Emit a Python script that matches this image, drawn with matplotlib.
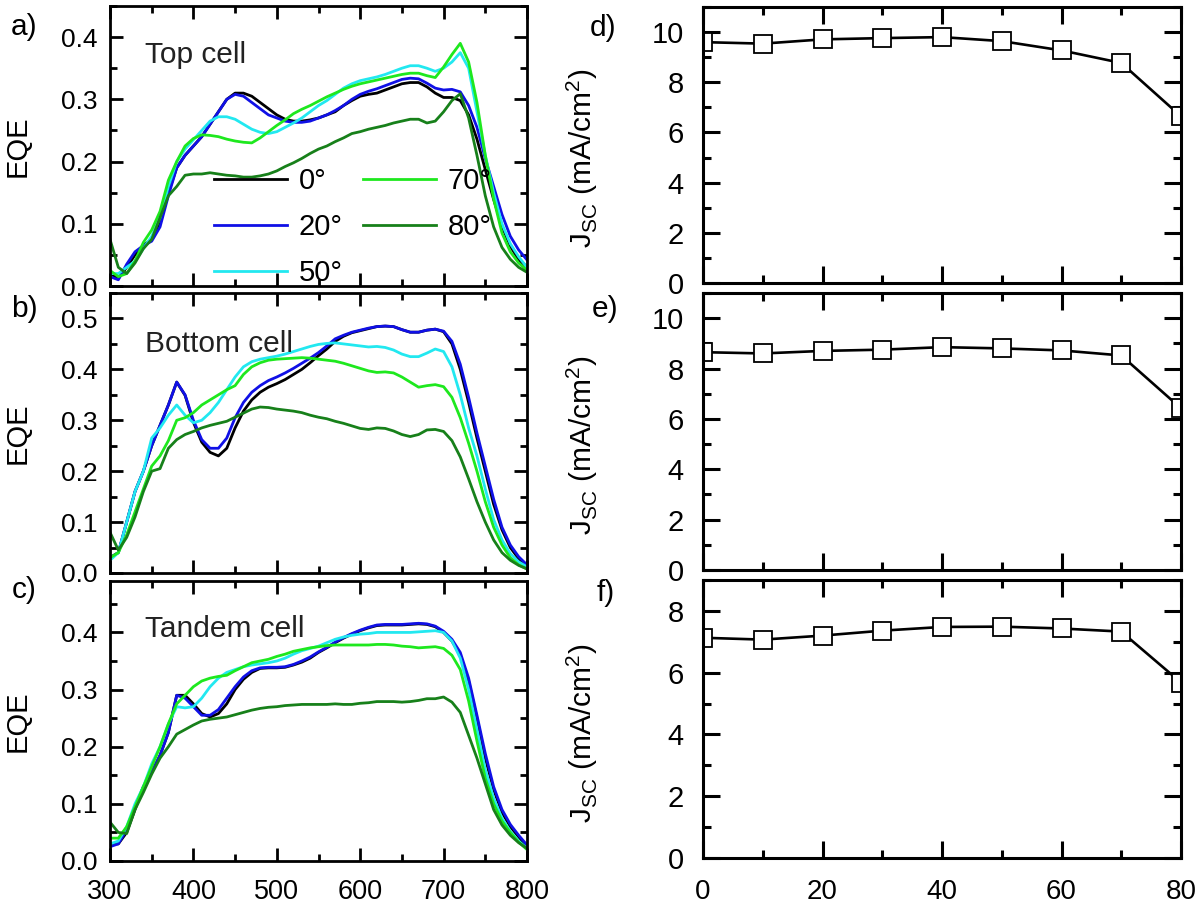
import numpy as np
import matplotlib
matplotlib.use('Agg')
import matplotlib.pyplot as plt
from matplotlib.ticker import MultipleLocator, FormatStrFormatter

plt.rcParams['font.family'] = ['Liberation Sans', 'DejaVu Sans']
plt.rcParams['mathtext.fontset'] = 'custom'
plt.rcParams['mathtext.rm'] = 'Liberation Sans'

# ---------------- data ----------------
wavelength = np.arange(300, 801, 10)
angle_labels = ['0°', '20°', '50°', '70°', '80°']
colors = ['#000000', '#1010e6', '#22e8f0', '#1ee81e', '#17801a']

top_0 = [0.02, 0.012, 0.03, 0.05, 0.065, 0.075, 0.10, 0.15, 0.19, 0.21, 0.225, 0.24, 0.26, 0.28, 0.30,
         0.31, 0.31, 0.305, 0.295, 0.285, 0.275, 0.268, 0.265, 0.265, 0.267, 0.27, 0.275, 0.28, 0.29,
         0.298, 0.305, 0.308, 0.31, 0.315, 0.32, 0.325, 0.327, 0.327, 0.32, 0.31, 0.303, 0.303, 0.298,
         0.275, 0.236, 0.187, 0.139, 0.096, 0.064, 0.042, 0.031]
top_20 = [0.015, 0.01, 0.035, 0.055, 0.065, 0.072, 0.095, 0.145, 0.19, 0.21, 0.225, 0.24, 0.26, 0.28,
          0.30, 0.308, 0.305, 0.295, 0.285, 0.275, 0.27, 0.265, 0.263, 0.263, 0.265, 0.27, 0.275, 0.282,
          0.29, 0.3, 0.308, 0.313, 0.317, 0.322, 0.327, 0.332, 0.334, 0.333, 0.326, 0.318, 0.315, 0.316,
          0.312, 0.29, 0.255, 0.205, 0.16, 0.115, 0.08, 0.058, 0.042]
top_50 = [0.02, 0.02, 0.03, 0.04, 0.06, 0.08, 0.11, 0.16, 0.2, 0.22, 0.235, 0.25, 0.265, 0.272, 0.272,
          0.268, 0.26, 0.252, 0.247, 0.245, 0.248, 0.255, 0.262, 0.27, 0.28, 0.29, 0.298, 0.308, 0.318,
          0.325, 0.33, 0.333, 0.336, 0.34, 0.345, 0.35, 0.354, 0.354, 0.35, 0.345, 0.35, 0.36, 0.375,
          0.35, 0.28, 0.21, 0.15, 0.10, 0.068, 0.047, 0.03]
top_70 = [0.025, 0.015, 0.02, 0.04, 0.07, 0.09, 0.12, 0.17, 0.2, 0.225, 0.237, 0.243, 0.242, 0.24,
          0.236, 0.233, 0.231, 0.23, 0.238, 0.248, 0.258, 0.267, 0.277, 0.284, 0.29, 0.297, 0.304, 0.31,
          0.316, 0.321, 0.325, 0.328, 0.331, 0.334, 0.337, 0.34, 0.342, 0.342, 0.338, 0.335, 0.352,
          0.372, 0.39, 0.36, 0.295, 0.21, 0.14, 0.085, 0.055, 0.037, 0.025]
top_80 = [0.075, 0.03, 0.02, 0.037, 0.06, 0.075, 0.11, 0.145, 0.16, 0.178, 0.18, 0.18, 0.182, 0.18,
          0.178, 0.177, 0.175, 0.175, 0.177, 0.18, 0.185, 0.192, 0.198, 0.205, 0.213, 0.22, 0.225,
          0.232, 0.238, 0.245, 0.248, 0.252, 0.255, 0.258, 0.262, 0.265, 0.268, 0.268, 0.262, 0.265,
          0.28, 0.298, 0.309, 0.27, 0.21, 0.145, 0.095, 0.062, 0.043, 0.03, 0.022]

bottom_0 = [0.03, 0.04, 0.1, 0.16, 0.2, 0.25, 0.29, 0.33, 0.375, 0.349, 0.296, 0.257, 0.237, 0.23,
            0.245, 0.285, 0.318, 0.34, 0.355, 0.365, 0.372, 0.38, 0.39, 0.40, 0.413, 0.427, 0.44,
            0.455, 0.465, 0.472, 0.476, 0.48, 0.484, 0.485, 0.484, 0.478, 0.473, 0.473, 0.477, 0.479,
            0.474, 0.45, 0.40, 0.335, 0.265, 0.2, 0.135, 0.085, 0.05, 0.028, 0.013]
bottom_20 = [0.03, 0.04, 0.1, 0.16, 0.2, 0.25, 0.29, 0.33, 0.375, 0.35, 0.3, 0.262, 0.245, 0.245,
             0.265, 0.305, 0.335, 0.355, 0.368, 0.378, 0.385, 0.393, 0.402, 0.412, 0.422, 0.433,
             0.446, 0.46, 0.467, 0.473, 0.477, 0.481, 0.484, 0.485, 0.484, 0.478, 0.473, 0.473, 0.477,
             0.479, 0.475, 0.455, 0.41, 0.345, 0.275, 0.21, 0.145, 0.09, 0.055, 0.032, 0.016]
bottom_50 = [0.025, 0.04, 0.1, 0.16, 0.2, 0.265, 0.285, 0.31, 0.33, 0.31, 0.295, 0.3, 0.315, 0.335,
             0.36, 0.385, 0.405, 0.415, 0.42, 0.423, 0.426, 0.43, 0.435, 0.44, 0.445, 0.449, 0.451,
             0.452, 0.45, 0.448, 0.446, 0.444, 0.445, 0.443, 0.438, 0.43, 0.425, 0.425, 0.432, 0.44,
             0.435, 0.405, 0.35, 0.285, 0.23, 0.165, 0.105, 0.065, 0.038, 0.022, 0.012]
bottom_70 = [0.03, 0.04, 0.075, 0.12, 0.165, 0.21, 0.23, 0.26, 0.3, 0.305, 0.315, 0.33, 0.34, 0.35,
             0.36, 0.368, 0.39, 0.405, 0.413, 0.418, 0.42, 0.421, 0.422, 0.423, 0.422, 0.42, 0.418,
             0.416, 0.412, 0.407, 0.402, 0.397, 0.394, 0.395, 0.393, 0.385, 0.375, 0.365, 0.368, 0.37,
             0.366, 0.345, 0.305, 0.255, 0.2, 0.14, 0.09, 0.055, 0.03, 0.016, 0.008]
bottom_80 = [0.08, 0.045, 0.07, 0.11, 0.16, 0.2, 0.205, 0.245, 0.262, 0.272, 0.278, 0.285, 0.29,
             0.294, 0.298, 0.306, 0.314, 0.322, 0.326, 0.325, 0.322, 0.32, 0.318, 0.315, 0.31, 0.306,
             0.303, 0.298, 0.294, 0.289, 0.284, 0.282, 0.285, 0.284, 0.279, 0.272, 0.268, 0.272, 0.281,
             0.282, 0.278, 0.26, 0.228, 0.185, 0.14, 0.1, 0.065, 0.04, 0.025, 0.015, 0.008]

tandem_0 = [0.03, 0.03, 0.05, 0.09, 0.13, 0.155, 0.185, 0.225, 0.29, 0.29, 0.275, 0.258, 0.252, 0.258,
            0.275, 0.3, 0.318, 0.33, 0.337, 0.338, 0.338, 0.339, 0.343, 0.348, 0.355, 0.365, 0.373,
            0.382, 0.39, 0.397, 0.403, 0.408, 0.412, 0.413, 0.413, 0.413, 0.414, 0.415, 0.414, 0.41,
            0.4, 0.385, 0.36, 0.315, 0.25, 0.18, 0.125, 0.085, 0.06, 0.042, 0.025]
tandem_20 = [0.025, 0.03, 0.055, 0.095, 0.13, 0.155, 0.185, 0.225, 0.29, 0.285, 0.27, 0.255, 0.255,
             0.265, 0.285, 0.305, 0.322, 0.333, 0.338, 0.339, 0.339, 0.34, 0.344, 0.35, 0.357, 0.366,
             0.374, 0.383, 0.391, 0.398, 0.404, 0.409, 0.413, 0.414, 0.414, 0.414, 0.415, 0.416, 0.415,
             0.411, 0.402, 0.388, 0.365, 0.32, 0.255, 0.188, 0.13, 0.09, 0.064, 0.045, 0.028]
tandem_50 = [0.03, 0.035, 0.06, 0.1, 0.13, 0.17, 0.2, 0.24, 0.27, 0.268, 0.27, 0.285, 0.305, 0.32,
             0.33, 0.335, 0.34, 0.343, 0.345, 0.347, 0.35, 0.355, 0.362, 0.368, 0.372, 0.376, 0.382,
             0.388, 0.392, 0.395, 0.397, 0.398, 0.4, 0.4, 0.4, 0.4, 0.4, 0.401, 0.402, 0.403, 0.4,
             0.385, 0.355, 0.3, 0.23, 0.16, 0.11, 0.075, 0.052, 0.035, 0.022]
tandem_70 = [0.04, 0.04, 0.06, 0.095, 0.13, 0.165, 0.2, 0.24, 0.275, 0.29, 0.305, 0.315, 0.32, 0.323,
             0.325, 0.333, 0.34, 0.347, 0.35, 0.353, 0.358, 0.362, 0.367, 0.37, 0.373, 0.375, 0.377,
             0.378, 0.378, 0.378, 0.378, 0.378, 0.379, 0.379, 0.378, 0.376, 0.375, 0.373, 0.374, 0.375,
             0.372, 0.36, 0.335, 0.28, 0.21, 0.145, 0.1, 0.07, 0.05, 0.033, 0.02]
tandem_80 = [0.068, 0.05, 0.048, 0.09, 0.12, 0.152, 0.18, 0.2, 0.222, 0.23, 0.238, 0.245, 0.248, 0.25,
             0.252, 0.256, 0.26, 0.264, 0.267, 0.269, 0.27, 0.272, 0.273, 0.274, 0.274, 0.274, 0.274,
             0.275, 0.274, 0.274, 0.276, 0.277, 0.279, 0.279, 0.279, 0.278, 0.279, 0.281, 0.284, 0.284,
             0.287, 0.278, 0.26, 0.22, 0.18, 0.135, 0.09, 0.063, 0.045, 0.032, 0.022]

angles = [0, 10, 20, 30, 40, 50, 60, 70, 80]
jsc_top = [9.60, 9.54, 9.71, 9.76, 9.80, 9.64, 9.27, 8.77, 6.64]
jsc_bottom = [8.65, 8.60, 8.70, 8.75, 8.85, 8.80, 8.72, 8.52, 6.42]
jsc_tandem = [7.13, 7.07, 7.20, 7.36, 7.48, 7.49, 7.43, 7.33, 5.68]

eqe_panels = [
    ('Top cell', [top_0, top_20, top_50, top_70, top_80], 0.45, 0.796),
    ('Bottom cell', [bottom_0, bottom_20, bottom_50, bottom_70, bottom_80], 0.55, 0.789),
    ('Tandem cell', [tandem_0, tandem_20, tandem_50, tandem_70, tandem_80], 0.49, 0.80),
]
jsc_panels = [(jsc_top, 11), (jsc_bottom, 11), (jsc_tandem, 9)]

# ---------------- figure ----------------
W, H = 1197, 909
fig = plt.figure(figsize=(W / 100, H / 100), dpi=100)


def frac_axes(left, top, right, bottom):
    return fig.add_axes([left / W, 1 - bottom / H, (right - left) / W, (bottom - top) / H])


left_boxes = [(110, 6, 527, 286), (110, 293, 527, 573), (110, 581, 527, 861)]
right_boxes = [(703, 7, 1181, 283), (703, 293, 1181, 570), (703, 580, 1181, 858)]
left_letters = [('a)', 24, 27), ('b)', 24, 309), ('c)', 24, 590)]
right_letters = [('d)', 603, 28), ('e)', 605, 309), ('f)', 606, 593)]

for i, ((name, series, ymax, ty), box) in enumerate(zip(eqe_panels, left_boxes)):
    ax = frac_axes(*box)
    for vals, c, lab in zip(series, colors, angle_labels):
        ax.plot(wavelength, vals, color=c, lw=2.0, label=lab)
    ax.set_xlim(300, 800)
    ax.set_ylim(0, ymax)
    ax.xaxis.set_major_locator(MultipleLocator(100))
    ax.xaxis.set_minor_locator(MultipleLocator(50))
    ax.yaxis.set_major_locator(MultipleLocator(0.1))
    ax.yaxis.set_minor_locator(MultipleLocator(0.05))
    ax.yaxis.set_major_formatter(FormatStrFormatter('%.1f'))
    for s in ax.spines.values():
        s.set_linewidth(2)
    ax.tick_params(which='both', direction='in', top=True, right=True, width=2)
    ax.tick_params(which='major', length=9.5)
    ax.tick_params(which='minor', length=5)
    ax.tick_params(axis='y', labelsize=19, pad=9)
    ax.tick_params(axis='x', labelsize=19.5, pad=13)
    if i < 2:
        ax.tick_params(axis='x', labelbottom=False)
    ax.set_ylabel('EQE', fontsize=21)
    ax.yaxis.set_label_coords(-0.188, 0.5)
    ax.text(0.084, ty, name, transform=ax.transAxes, fontsize=21.5, va='baseline', ha='left',
            color='#222222')
    if i == 0:
        ax.legend(ncol=2, loc='lower left', bbox_to_anchor=(0.249, -0.005), frameon=False,
                  fontsize=21, handlelength=2.5, handletextpad=0.4, columnspacing=0.7,
                  labelspacing=0.62, borderpad=0, borderaxespad=0)

for (lab, x, y) in left_letters:
    fig.text(x / W, 1 - y / H, lab, fontsize=21.5, ha='center', va='center')

for i, ((vals, ymax), box) in enumerate(zip(jsc_panels, right_boxes)):
    ax = frac_axes(*box)
    ax.plot(angles, vals, '-s', color='black', mfc='white', mec='black', ms=12.5, mew=1.3, lw=1.9)
    ax.set_xlim(0, 80)
    ax.set_ylim(0, ymax)
    ax.xaxis.set_major_locator(MultipleLocator(20))
    ax.xaxis.set_minor_locator(MultipleLocator(10))
    ax.yaxis.set_major_locator(MultipleLocator(2))
    ax.yaxis.set_minor_locator(MultipleLocator(1))
    for s in ax.spines.values():
        s.set_linewidth(2.2)
    ax.tick_params(which='both', direction='in', top=True, right=True, width=2.2)
    ax.tick_params(which='major', length=12)
    ax.tick_params(which='minor', length=6)
    ax.tick_params(axis='y', labelsize=21, pad=14)
    ax.tick_params(axis='x', labelsize=20, pad=15)
    if i < 2:
        ax.tick_params(axis='x', labelbottom=False)
    ax.set_ylabel(r'J$_\mathregular{SC}$ (mA/cm$^\mathregular{2}$)', fontsize=21.5)
    ax.yaxis.set_label_coords(-0.215, 0.45)

for (lab, x, y) in right_letters:
    fig.text(x / W, 1 - y / H, lab, fontsize=21.5, ha='center', va='center')

fig.savefig('out.png', dpi=100)
